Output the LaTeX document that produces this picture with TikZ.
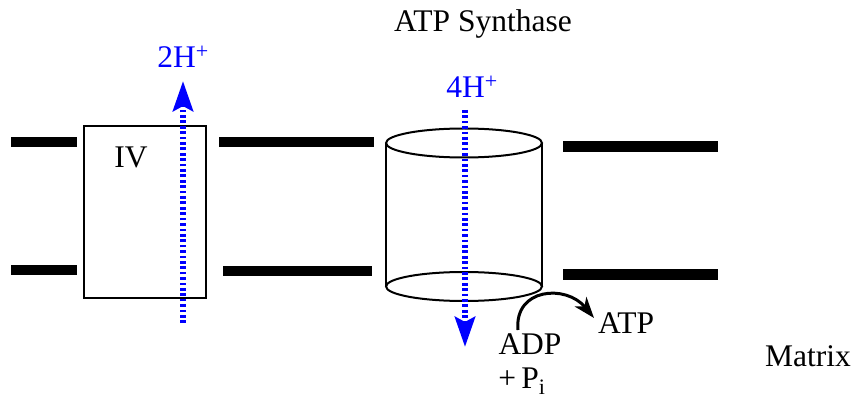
\documentclass[tikz,border=0pt]{standalone}
\usepackage{fontspec}
\setmainfont{Liberation Serif}
\usetikzlibrary{arrows.meta}
\begin{document}
\begin{tikzpicture}[x=1pt,y=-1pt,
  membrane/.style={fill=black},
  protein/.style={draw=black, line width=2pt},
  proton/.style={draw=blue, line width=6pt, dash pattern=on 2.7pt off 2.7pt,
    -{Stealth[length=30pt,width=20pt,inset=5pt,fill=blue]}},
  lbl/.style={font=\fontsize{31.5}{36}\selectfont, inner sep=0pt, anchor=base},
  bluelbl/.style={lbl, text=blue},
  react/.style={draw=black, line width=3pt, -{Stealth[length=21pt,width=15pt,inset=6pt]}}]
\useasboundingbox (0,0) rectangle (858,403);
% membrane segments
\path[membrane] (11,137) rectangle (77,147);
\path[membrane] (11,265) rectangle (77,275);
\path[membrane] (219,137) rectangle (374,147);
\path[membrane] (223,266) rectangle (372,276);
\path[membrane] (563,141) rectangle (718,152);
\path[membrane] (563,269) rectangle (718,280);
% complex IV
\node[protein, minimum width=122pt, minimum height=172pt, inner sep=0pt] (iv) at (145,212) {};
\node[lbl] (ivlabel) at (131,168) {IV};
% ATP synthase cylinder
\draw[protein] (386,143) -- (386,286.5);
\draw[protein] (542,143) -- (542,286.5);
\draw[protein] (464,143) ellipse [x radius=78, y radius=14.5];
\draw[protein] (464,286.5) ellipse [x radius=78, y radius=14.5];
% proton arrows
\coordinate (p2s) at (183,323);
\coordinate (p2e) at (183,81);
\coordinate (p4s) at (465,110);
\coordinate (p4e) at (465,347);
\draw[proton] (p2s) -- (p2e);
\draw[proton] (p4s) -- (p4e);
% labels
\node[lbl] (synth) at (483,32) {ATP Synthase};
\node[bluelbl] (h2) at (183,68) {2H\textsuperscript{+}};
\node[bluelbl] (h4) at (472,98) {4H\textsuperscript{+}};
\node[lbl] (adp) at (530,354) {ADP};
\node[lbl] (pi) at (522,388) {+\,P\textsubscript{i}};
\node[lbl] (atp) at (626,333) {ATP};
\node[lbl] (matrix) at (808,366) {Matrix};
% reaction arrow
\coordinate (rs) at (518,330);
\coordinate (re) at (594,318);
\draw[react] (rs) .. controls (514,288) and (566,284) .. (re);
\end{tikzpicture}
\end{document}
